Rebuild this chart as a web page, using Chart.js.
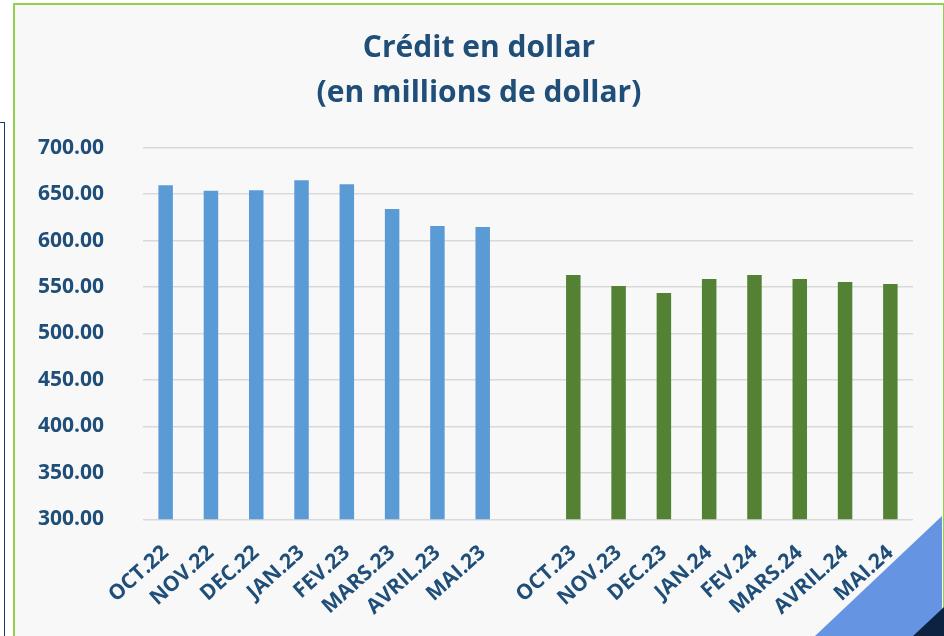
<!DOCTYPE html>
<html>
<head>
<meta charset="utf-8">
<script src="https://cdn.jsdelivr.net/npm/chart.js@4"></script>
<style>
  html, body { margin: 0; padding: 0; background: #ffffff; overflow: hidden; }
  #page { position: relative; width: 944px; height: 636px; }
  .navyBox { position: absolute; left: -10px; top: 122px; width: 13px; height: 600px; border: 1.5px solid #1f3864; }
  .frame { position: absolute; left: 13px; top: 3px; width: 928px; height: 700px; border: 2px solid #92d050; background: #f8f8f8; }
  .triBlue { position: absolute; left: 0; top: 0; width: 944px; height: 636px; background: #6494e2; clip-path: polygon(815px 636px, 942px 516px, 942px 636px); }
  .triDark { position: absolute; left: 0; top: 0; width: 944px; height: 636px; background: #0d2240; clip-path: polygon(913px 636px, 944px 607px, 944px 636px); }
  canvas { position: absolute; left: 0; top: 0; }
</style>
</head>
<body>
<div id="page">
  <div class="navyBox"></div>
  <div class="frame"></div>
  <div class="triBlue"></div>
  <div class="triDark"></div>
  <canvas id="creditChart" width="944" height="636"></canvas>
</div>
<script>
// months and credit values (millions of dollars)
const months2223 = ["OCT.22", "NOV.22", "DEC.22", "JAN.23", "FEV.23", "MARS.23", "AVRIL.23", "MAI.23"];
const months2324 = ["OCT.23", "NOV.23", "DEC.23", "JAN.24", "FEV.24", "MARS.24", "AVRIL.24", "MAI.24"];
const credit2223 = [659.5, 653.7, 654.1, 664.9, 660.6, 634.0, 615.7, 614.6];
const credit2324 = [563.0, 551.1, 543.6, 558.7, 563.0, 558.7, 555.5, 553.3];
const yTicks = [300, 350, 400, 450, 500, 550, 600, 650, 700];
const titleLines = ["Crédit en dollar", "(en millions de dollar)"];

const textColor = "#1f4e79";

// one empty category between the two periods
const labels = [...months2223, "", ...months2324];
const blueData = [...credit2223, null, ...months2324.map(() => null)];
const greenData = [...months2223.map(() => null), null, ...credit2324];

// title centred on the green frame rather than on the canvas
const frameTitle = {
  id: "frameTitle",
  afterDraw(chart) {
    const c = chart.ctx;
    c.save();
    c.font = "bold 30px 'Open Sans'";
    c.fillStyle = textColor;
    c.textAlign = "center";
    c.textBaseline = "middle";
    titleLines.forEach((line, i) => c.fillText(line, 479, 48 + i * 45));
    c.restore();
  },
};

const ctx = document.getElementById("creditChart");
new Chart(ctx, {
  type: "bar",
  data: {
    labels: labels,
    datasets: [
      { label: "2022-2023", data: blueData, backgroundColor: "#5b9bd5" },
      { label: "2023-2024", data: greenData, backgroundColor: "#548235" },
    ],
  },
  plugins: [frameTitle],
  options: {
    responsive: false,
    animation: false,
    layout: { padding: { left: 0, right: 31, top: 147.7, bottom: 0 } },
    datasets: { bar: { grouped: false, categoryPercentage: 1, barPercentage: 0.32 } },
    plugins: {
      legend: { display: false },
      tooltip: { enabled: false },
      title: { display: false },
    },
    scales: {
      x: {
        grid: { display: false },
        border: { display: false },
        ticks: {
          color: textColor,
          font: { family: "Open Sans", size: 21, weight: "bold" },
          minRotation: 42,
          maxRotation: 42,
          autoSkip: false,
          padding: 13,
        },
        afterFit: (scale) => { scale.height = 116.7; },
      },
      y: {
        min: 300,
        max: 700,
        afterBuildTicks: (scale) => { scale.ticks = yTicks.map((v) => ({ value: v })); },
        grid: { color: "#d9d9d9", lineWidth: 1.5, drawTicks: false },
        border: { display: false },
        ticks: {
          color: textColor,
          font: { family: "Open Sans", size: 21, weight: "bold" },
          padding: 39,
          callback: (v) => Number(v).toFixed(2),
        },
        afterFit: (scale) => { scale.width = 143; },
      },
    },
  },
});
</script>
</body>
</html>
